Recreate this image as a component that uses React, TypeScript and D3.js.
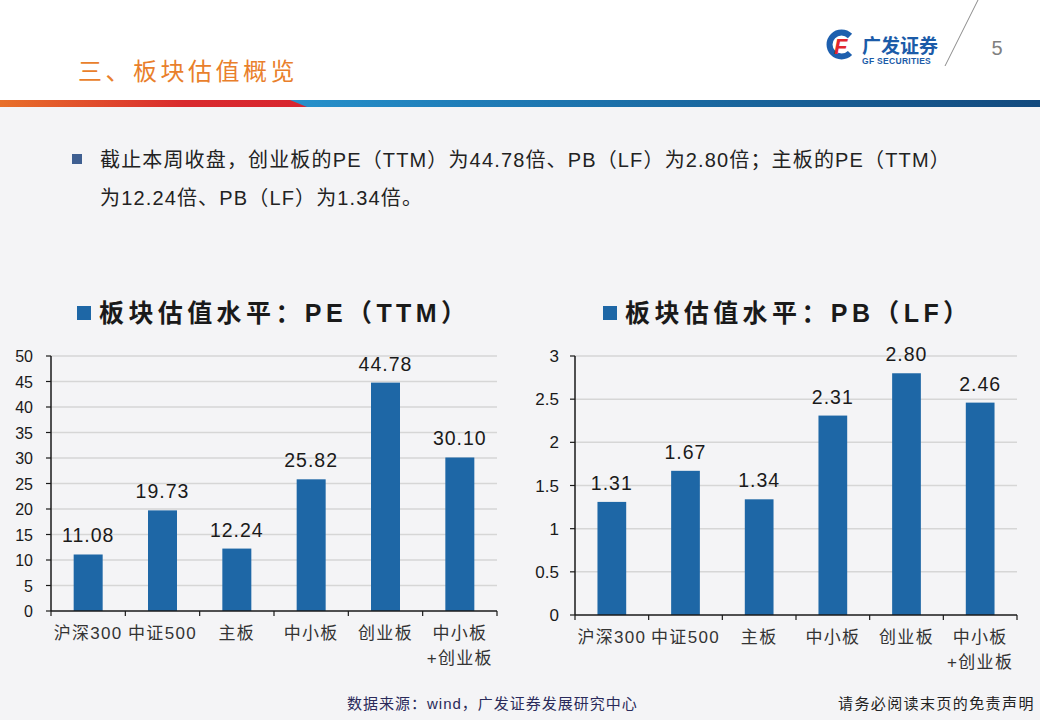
import * as d3 from 'd3';

// ---- data ----
const categoryLines: string[][] = [
  ['沪深300'],
  ['中证500'],
  ['主板'],
  ['中小板'],
  ['创业板'],
  ['中小板', '+创业板'],
];
const categories = categoryLines.map((l) => l.join(''));
const peValues = [11.08, 19.73, 12.24, 25.82, 44.78, 30.1];
const pbValues = [1.31, 1.67, 1.34, 2.31, 2.8, 2.46];
const peTicks = [0, 5, 10, 15, 20, 25, 30, 35, 40, 45, 50];
const pbTicks = [0, 0.5, 1, 1.5, 2, 2.5, 3];

const BAR = '#1e67a6';
const FONT = '"Liberation Sans", Arial, "Noto Sans CJK SC", sans-serif';

interface PanelProps {
  values: number[];
  ticks: number[];
  x0: number;
  x1: number;
  yTop: number;
  yBottom: number;
  title: string[]; // [cjk part, latin part, inner]
  squareX: number;
  tickGap: number;
  tickSize: number;
}

function BarPanel({ values, ticks, x0, x1, yTop, yBottom, title, squareX, tickGap, tickSize }: PanelProps) {
  const x = d3.scaleBand<string>().domain(categories).range([x0, x1]).padding(0);
  const y = d3.scaleLinear().domain([0, ticks[ticks.length - 1]]).range([yBottom, yTop]);
  const barW = x.bandwidth() * 0.39;
  const bounds = categories.map((c) => x(c) as number).concat(x1);
  const titleY = 313;

  return (
    <g>
      {/* title */}
      <rect x={squareX} y={titleY - 7} width={14} height={14} fill={BAR} />
      <text
        x={squareX + 22}
        y={titleY + 9}
        fontFamily={FONT}
        fontSize={25}
        fontWeight="bold"
        letterSpacing={4.4}
        fill="#1a1a1a"
      >
        {title[0]}
        {title[1]}（{title[2]}）
      </text>

      {/* gridlines */}
      {ticks.map((t) =>
        t === 0 ? null : (
          <line key={'g' + t} x1={x0} x2={x1} y1={y(t)} y2={y(t)} stroke="#d6d6d6" strokeWidth={1.5} />
        )
      )}

      {/* bars */}
      {values.map((v, i) => {
        const cx = (x(categories[i]) as number) + x.bandwidth() / 2;
        return (
          <g key={'b' + i}>
            <rect x={cx - barW / 2} y={y(v)} width={barW} height={y(0) - y(v)} fill={BAR} />
            <text
              x={cx}
              y={y(v) - 12}
              textAnchor="middle"
              fontFamily={FONT}
              fontSize={19.5}
              letterSpacing={1}
              fill="#1a1a1a"
            >
              {v.toFixed(2)}
            </text>
          </g>
        );
      })}

      {/* y axis */}
      <line x1={x0} x2={x0} y1={yTop} y2={yBottom} stroke="#1a1a1a" strokeWidth={1.5} />
      {ticks.map((t) => (
        <g key={'t' + t}>
          <line x1={x0 - 5} x2={x0} y1={y(t)} y2={y(t)} stroke="#1a1a1a" strokeWidth={1.2} />
          <text
            x={x0 - tickGap}
            y={y(t) + 6}
            textAnchor="end"
            fontFamily={FONT}
            fontSize={tickSize}
            fill="#1a1a1a"
          >
            {String(t)}
          </text>
        </g>
      ))}

      {/* x axis */}
      <line x1={x0} x2={x1} y1={yBottom} y2={yBottom} stroke="#1a1a1a" strokeWidth={1.5} />
      {bounds.map((b, i) => (
        <line key={'xt' + i} x1={b} x2={b} y1={yBottom} y2={yBottom + 5} stroke="#1a1a1a" strokeWidth={1.2} />
      ))}
      {categoryLines.map((lines, i) => {
        const cx = (x(categories[i]) as number) + x.bandwidth() / 2;
        return (
          <text
            key={'c' + i}
            textAnchor="middle"
            fontFamily={FONT}
            fontSize={17}
            letterSpacing={1.3}
            fill="#333"
          >
            {lines.map((l, j) => (
              <tspan key={j} x={cx} y={yBottom + 28 + j * 25}>
                {l}
              </tspan>
            ))}
          </text>
        );
      })}
    </g>
  );
}

export default function App() {
  return (
    <svg
      width={1040}
      height={720}
      style={{ position: 'absolute', left: 0, top: 0, display: 'block' }}
    >
      <defs>
        <linearGradient id="bandL" x1="0" x2="1" y1="0" y2="0">
          <stop offset="0" stopColor="#e8702a" />
          <stop offset="0.6" stopColor="#d92a2e" />
          <stop offset="1" stopColor="#d8252f" />
        </linearGradient>
        <linearGradient id="bandR" x1="0" x2="1" y1="0" y2="0">
          <stop offset="0" stopColor="#1c78b4" />
          <stop offset="0.2" stopColor="#2a9ad4" />
          <stop offset="0.45" stopColor="#1f7db8" />
          <stop offset="1" stopColor="#134a7e" />
        </linearGradient>
      </defs>

      {/* page */}
      <rect x={0} y={0} width={1040} height={720} fill="#f4f4f6" />
      <rect x={0} y={0} width={1040} height={100} fill="#ffffff" />
      <rect x={0} y={100} width={1040} height={7} fill="url(#bandR)" />
      <path d="M0,100 L290,100 L307,107 L0,107 Z" fill="url(#bandL)" />

      {/* header */}
      <text
        x={78}
        y={80}
        fontFamily='"Noto Sans CJK SC", sans-serif'
        fontSize={24}
        letterSpacing={3.5}
        fill="#e97f2c"
      >
        三、板块估值概览
      </text>

      {/* logo */}
      <path d="M850,36 A12,12 0 1 0 850,53" fill="none" stroke="#1d5fae" strokeWidth={6} />
      <text x={834} y={54} fontFamily={FONT} fontSize={22} fontWeight="bold" fontStyle="italic" fill="#e1262d">
        F
      </text>
      <text x={862} y={53} fontFamily='"Noto Sans CJK SC", sans-serif' fontSize={19} fontWeight="bold" fill="#1b5ba8">
        广发证券
      </text>
      <text x={862} y={64} fontFamily={FONT} fontSize={8.5} fontWeight="bold" fill="#1b5ba8" letterSpacing={0.3}>
        GF SECURITIES
      </text>
      <line x1={978} y1={0} x2={945} y2={66} stroke="#8a8a8a" strokeWidth={1} />
      <text x={997} y={55} textAnchor="middle" fontFamily={FONT} fontSize={20} fill="#808080">
        5
      </text>

      {/* bullet text */}
      <rect x={72} y={154} width={10} height={10} fill="#3f5f91" />
      <text x={100} y={167} fontFamily={FONT} fontSize={20} letterSpacing={1.15} fill="#222">
        截止本周收盘，创业板的PE（TTM）为44.78倍、PB（LF）为2.80倍；主板的PE（TTM）
      </text>
      <text x={100} y={205} fontFamily={FONT} fontSize={20} letterSpacing={1.15} fill="#222">
        为12.24倍、PB（LF）为1.34倍。
      </text>

      <BarPanel
        values={peValues}
        ticks={peTicks}
        x0={51}
        x1={497}
        yTop={356}
        yBottom={611}
        title={['板块估值水平：', 'PE', 'TTM']}
        squareX={77}
        tickGap={18}
        tickSize={16}
      />
      <BarPanel
        values={pbValues}
        ticks={pbTicks}
        x0={575}
        x1={1017}
        yTop={356}
        yBottom={615}
        title={['板块估值水平：', 'PB', 'LF']}
        squareX={603}
        tickGap={16}
        tickSize={17}
      />

      {/* footer */}
      <text x={347} y={709} fontFamily={FONT} fontSize={15} letterSpacing={1} fill="#2a2a5a">
        数据来源：wind，广发证券发展研究中心
      </text>
      <text x={838} y={709} fontFamily={FONT} fontSize={15} letterSpacing={1.4} fill="#222">
        请务必阅读末页的免责声明
      </text>
    </svg>
  );
}
